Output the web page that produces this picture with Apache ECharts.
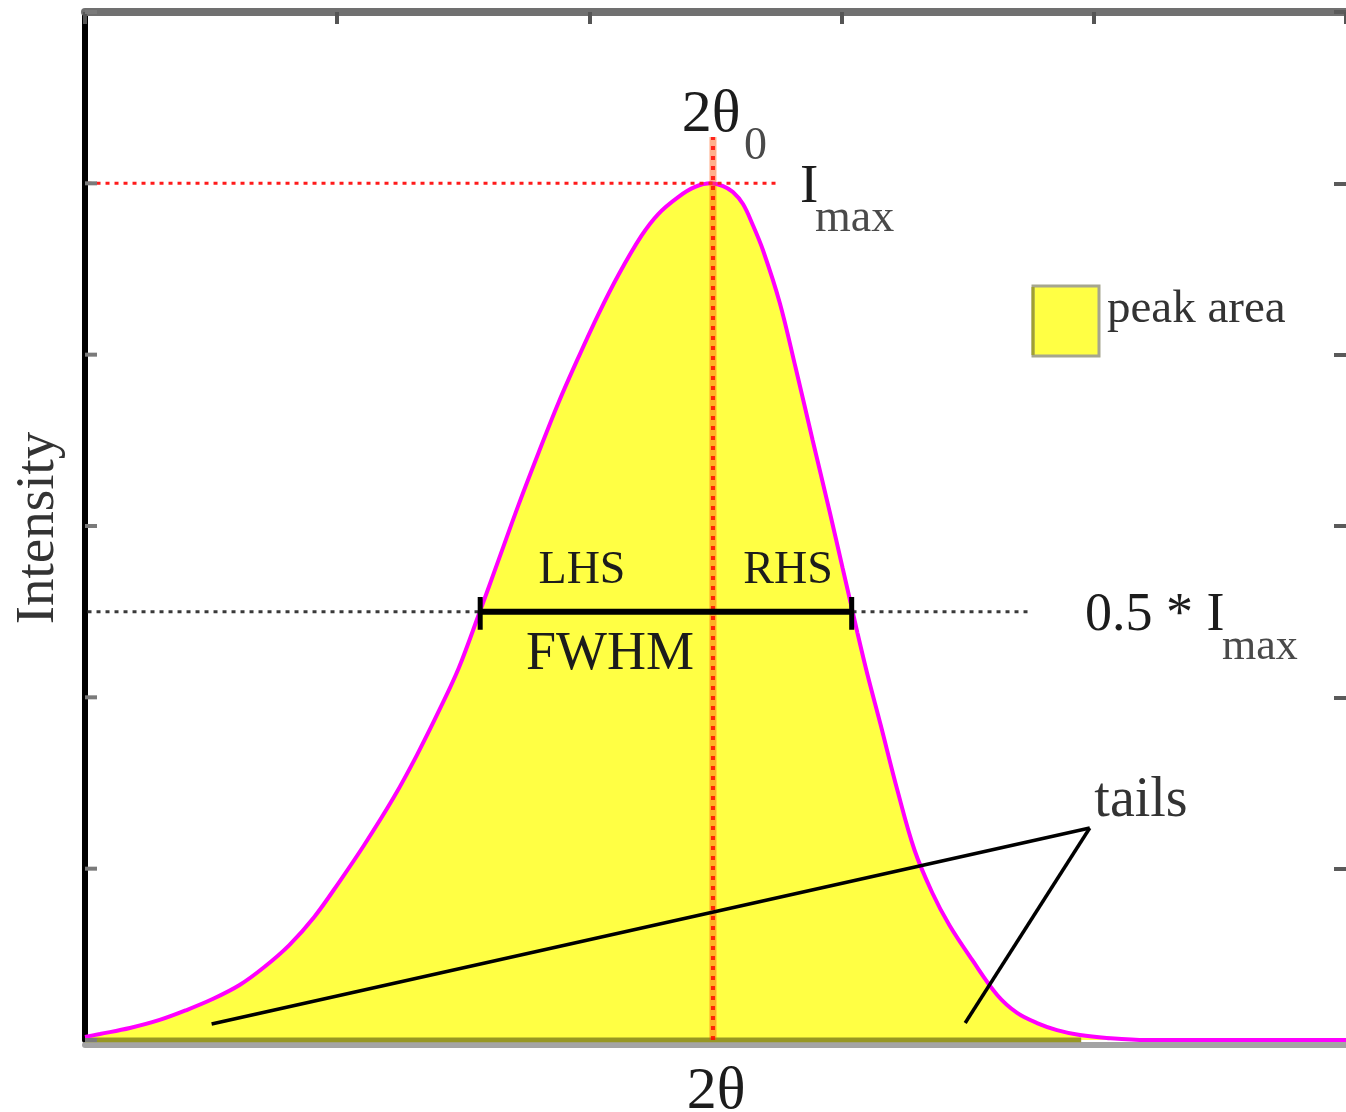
<!DOCTYPE html>
<html>
<head>
<meta charset="utf-8">
<script src="https://cdn.jsdelivr.net/npm/echarts@6/dist/echarts.min.js"></script>
<style>
  html, body { margin: 0; padding: 0; background: #ffffff; }
  #chart { width: 1346px; height: 1112px; }
</style>
</head>
<body>
<div id="chart"></div>
<script>
// Diffraction peak profile: 2θ position (axis units) and intensity.
const twoTheta = [
  0.000, 0.059, 0.178, 0.296, 0.403, 0.506, 0.613, 0.711, 0.810, 0.909,
  1.008, 1.107, 1.225, 1.316, 1.407, 1.482, 1.565, 1.640, 1.719, 1.798,
  1.877, 1.957, 2.036, 2.115, 2.206, 2.273, 2.352, 2.419, 2.482,
  2.530, 2.569, 2.609, 2.648, 2.688, 2.755, 2.818, 2.885, 2.953, 3.004,
  3.036, 3.063, 3.103, 3.154, 3.221, 3.289, 3.360, 3.427, 3.518, 3.617,
  3.696, 3.775, 3.854, 3.945, 4.051, 4.209, 5.000
];
const intensity = [
  0.018, 0.035, 0.070, 0.117, 0.175, 0.239, 0.321, 0.426, 0.554, 0.718,
  0.922, 1.138, 1.418, 1.663, 1.932, 2.171, 2.498, 2.802, 3.123, 3.426,
  3.718, 3.986, 4.237, 4.465, 4.693, 4.821, 4.920, 4.979, 5.000,
  4.984, 4.949, 4.879, 4.757, 4.611, 4.302, 3.922, 3.502, 3.082, 2.755,
  2.551, 2.375, 2.130, 1.844, 1.459, 1.109, 0.858, 0.671, 0.467, 0.263,
  0.158, 0.099, 0.058, 0.029, 0.012, 0.000, 0.000
];

// Peak descriptors
const peakPosition = 2.49;      // 2θ0
const peakIntensity = 5;        // Imax
const halfIntensity = 2.5;      // 0.5 * Imax
const fwhmBounds = [1.567, 3.040];
const imaxGuideEnd = 2.747;
const halfGuideEnd = 3.755;
const peakGuideTop = 5.27;
const areaBaselineEnd = 3.95;

// "tails" pointer lines
const tailsApex = [3.984, 1.237];
const tailsEnds = [[0.502, 0.093], [3.490, 0.099]];

// Axis ranges / tick spacing
const xRange = [0, 5];
const yRange = [0, 6];
const tickStep = 1;
const intensityTicks = [0, 1, 2, 3, 4, 5, 6];

const profile = twoTheta.map((x, i) => [x, intensity[i]]);

const FONT = '"Liberation Serif", "DejaVu Serif", serif';
const INK = '#1c1c1c';
const SUB_INK = '#4a4a4a';
const LEFT_TICK_LEN = 12;

function segment(name, points, lineStyle, z) {
  return {
    name: name,
    type: 'line',
    data: points,
    symbol: 'none',
    silent: true,
    animation: false,
    z: z,
    lineStyle: lineStyle
  };
}

function text(str, x, y, size, extra) {
  extra = extra || {};
  return {
    type: 'text',
    x: x,
    y: y,
    rotation: extra.rotation || 0,
    silent: true,
    z: 100,
    style: Object.assign({
      text: str,
      font: size + 'px ' + FONT,
      fill: INK,
      align: 'left',
      verticalAlign: 'middle'
    }, extra.style || {})
  };
}

const chart = echarts.init(document.getElementById('chart'), null, { renderer: 'canvas' });

const hiddenAxisParts = {
  axisLabel: { show: false },
  splitLine: { show: false }
};

const option = {
  backgroundColor: '#ffffff',
  animation: false,
  grid: { left: 85, right: -4, top: 12, bottom: 72, containLabel: false },
  xAxis: [
    Object.assign({
      type: 'value', position: 'bottom', min: xRange[0], max: xRange[1], interval: tickStep,
      offset: 5,
      axisLine: { show: true, onZero: false, lineStyle: { color: '#a4a4a4', width: 6 } },
      axisTick: { show: false }
    }, hiddenAxisParts),
    Object.assign({
      type: 'value', position: 'top', min: xRange[0], max: xRange[1], interval: tickStep,
      axisLine: { show: true, onZero: false, lineStyle: { color: '#707070', width: 8 } },
      axisTick: { show: true, inside: true, length: 12, lineStyle: { color: '#555555', width: 4 } }
    }, hiddenAxisParts)
  ],
  yAxis: [
    // left frame line (its ticks are drawn by the custom series below)
    Object.assign({
      type: 'value', position: 'left', min: yRange[0], max: yRange[1], interval: tickStep,
      axisLine: { show: true, onZero: false, lineStyle: { color: '#000000', width: 6 } },
      axisTick: { show: false }
    }, hiddenAxisParts),
    // right-hand ticks
    Object.assign({
      type: 'value', position: 'right', min: yRange[0], max: yRange[1], interval: tickStep,
      axisLine: { show: false, onZero: false },
      axisTick: { show: true, inside: true, length: 12, lineStyle: { color: '#5a5a5a', width: 4 } }
    }, hiddenAxisParts)
  ],
  series: [
    // filled peak area
    {
      name: 'peak area',
      type: 'line',
      data: profile,
      smooth: 0.35,
      symbol: 'none',
      silent: true,
      z: 2,
      lineStyle: { width: 0, opacity: 0 },
      areaStyle: { color: '#ffff44', opacity: 1 }
    },
    // baseline under the filled area
    segment('baseline', [[0, 0], [areaBaselineEnd, 0]], { color: '#979722', width: 5 }, 3),
    // profile outline
    {
      name: 'profile',
      type: 'line',
      data: profile,
      smooth: 0.35,
      symbol: 'none',
      silent: true,
      z: 4,
      lineStyle: { color: '#ff00ff', width: 4 }
    },
    // Imax guide
    segment('imax', [[0.01, peakIntensity], [imaxGuideEnd, peakIntensity]],
      { color: '#ff1a1a', width: 3, type: [4, 5] }, 5),
    // 2θ0 guide: soft band with red dashes on top
    segment('peak position band', [[peakPosition, 0], [peakPosition, peakGuideTop]],
      { color: 'rgba(255,80,0,0.45)', width: 7 }, 5),
    segment('peak position', [[peakPosition, 0], [peakPosition, peakGuideTop]],
      { color: 'rgba(255,0,0,0.8)', width: 4, type: [4, 6] }, 5),
    // half-maximum guide
    segment('half max', [[0.01, halfIntensity], [halfGuideEnd, halfIntensity]],
      { color: '#3a3a3a', width: 3, type: [4, 5] }, 5),
    // FWHM bar with end caps
    segment('fwhm', [[fwhmBounds[0], halfIntensity], [fwhmBounds[1], halfIntensity]],
      { color: '#000000', width: 6 }, 6),
    segment('fwhm cap left', [[fwhmBounds[0], halfIntensity - 0.105], [fwhmBounds[0], halfIntensity + 0.085]],
      { color: '#000000', width: 5 }, 6),
    segment('fwhm cap right', [[fwhmBounds[1], halfIntensity - 0.105], [fwhmBounds[1], halfIntensity + 0.085]],
      { color: '#000000', width: 5 }, 6),
    // tails pointers
    segment('tail left', [tailsEnds[0], tailsApex], { color: '#000000', width: 3.5 }, 6),
    segment('tail right', [tailsEnds[1], tailsApex], { color: '#000000', width: 3.5 }, 6),
    // inward ticks along the left frame
    {
      name: 'left ticks',
      type: 'custom',
      silent: true,
      clip: false,
      z: 7,
      data: intensityTicks.map(v => [xRange[0], v]),
      renderItem: function (params, api) {
        const p = api.coord([api.value(0), api.value(1)]);
        return {
          type: 'line',
          shape: { x1: p[0], y1: p[1], x2: p[0] + LEFT_TICK_LEN, y2: p[1] },
          style: { stroke: '#7a7a7a', lineWidth: 4 }
        };
      }
    }
  ],
  graphic: [
    // legend swatch
    {
      type: 'rect', silent: true, z: 100,
      shape: { x: 1033, y: 286, width: 66, height: 70 },
      style: { fill: '#ffff44', stroke: '#a6a68e', lineWidth: 3 }
    },
    {
      type: 'line', silent: true, z: 101,
      shape: { x1: 1033, y1: 287, x2: 1033, y2: 355 },
      style: { stroke: '#a0a030', lineWidth: 3 }
    },
    text('peak area', 1107, 310, 47, { style: { fill: '#333333' } }),
    text('2θ', 711, 115, 60, { style: { align: 'center' } }),
    text('0', 744, 147, 46, { style: { fill: SUB_INK } }),
    text('I', 800, 188, 55),
    text('max', 815, 219, 46, { style: { fill: SUB_INK } }),
    text('LHS', 582, 571, 46, { style: { align: 'center' } }),
    text('RHS', 788, 571, 46, { style: { align: 'center' } }),
    text('FWHM', 610, 655, 54, { style: { align: 'center' } }),
    text('0.5 * I', 1085, 616, 54),
    text('max', 1222, 647, 44, { style: { fill: SUB_INK } }),
    text('tails', 1141, 801, 56, { style: { align: 'center', fill: '#333333' } }),
    text('2θ', 716, 1092, 60, { style: { align: 'center' } }),
    text('Intensity', 39, 528, 55, { rotation: Math.PI / 2, style: { align: 'center', fill: '#333333' } })
  ]
};

chart.setOption(option);
</script>
</body>
</html>
